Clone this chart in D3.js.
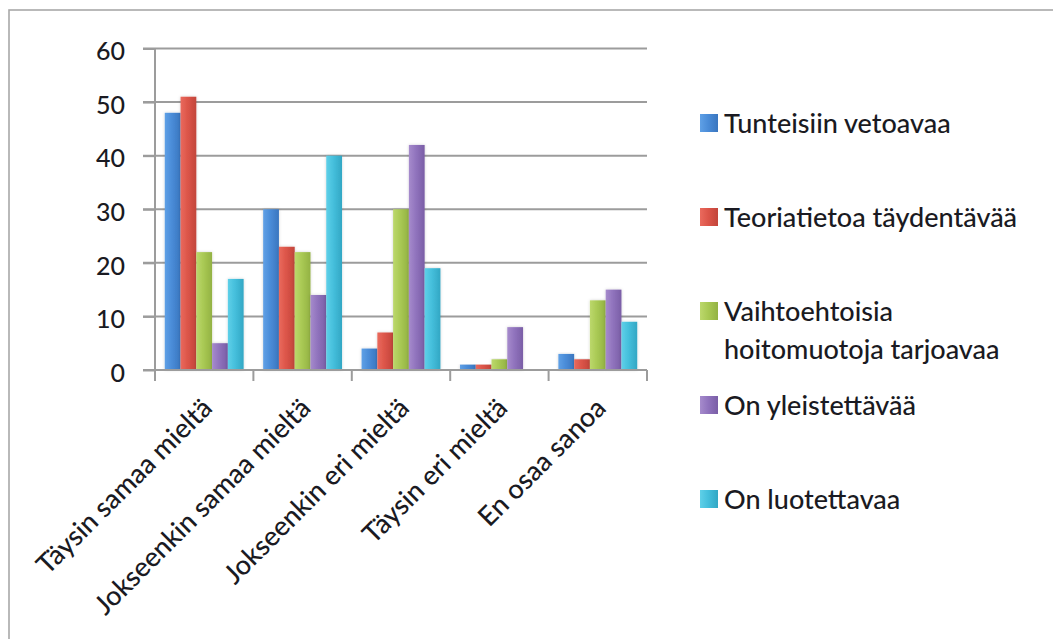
<!DOCTYPE html>
<html>
<head>
<meta charset="utf-8">
<script src="https://cdn.jsdelivr.net/npm/d3@7"></script>
<style>
  html, body { margin: 0; padding: 0; background: #ffffff; }
  svg { display: block; }
  text { font-family: Lato, "Open Sans", sans-serif; font-weight: 500; fill: #1a1a22; }
</style>
</head>
<body>
<svg id="chart" width="1053" height="639"></svg>
<script>
// Response categories (x axis)
const categories = ["Täysin samaa mieltä", "Jokseenkin samaa mieltä", "Jokseenkin eri mieltä", "Täysin eri mieltä", "En osaa sanoa"];

// Series names (legend)
const seriesNames = ["Tunteisiin vetoavaa", "Teoriatietoa täydentävää", "Vaihtoehtoisia hoitomuotoja tarjoavaa", "On yleistettävää", "On luotettavaa"];

// Values per series, one per category
const tunteisiinVetoavaa = [48, 30, 4, 1, 3];
const teoriatietoaTaydentavaa = [51, 23, 7, 1, 2];
const vaihtoehtoisiaHoitomuotoja = [22, 22, 30, 2, 13];
const onYleistettavaa = [5, 14, 42, 8, 15];
const onLuotettavaa = [17, 40, 19, 0, 9];

// Value axis ticks
const yTicks = [0, 10, 20, 30, 40, 50, 60];

const seriesValues = [tunteisiinVetoavaa, teoriatietoaTaydentavaa, vaihtoehtoisiaHoitomuotoja, onYleistettavaa, onLuotettavaa];

// light / base / dark shades for the bar gradients
const palette = [
  ["#5fa0e6", "#4a8cd8", "#3a76bf"],
  ["#ea6a5d", "#dc5549", "#c2453b"],
  ["#bcd86c", "#a9c954", "#93b243"],
  ["#a68bcc", "#9073bd", "#7a5ea6"],
  ["#5fd0e8", "#45bfdc", "#32a7c4"]
];

const svg = d3.select("#chart");
const defs = svg.append("defs");

palette.forEach((c, i) => {
  const g = defs.append("linearGradient")
    .attr("id", "grad" + i)
    .attr("x1", "0").attr("x2", "1").attr("y1", "0").attr("y2", "0");
  g.append("stop").attr("offset", "0").attr("stop-color", c[0]);
  g.append("stop").attr("offset", "0.45").attr("stop-color", c[1]);
  g.append("stop").attr("offset", "1").attr("stop-color", c[2]);
});

const shadow = defs.append("filter").attr("id", "barShadow")
  .attr("x", "-30%").attr("y", "-10%").attr("width", "160%").attr("height", "120%");
shadow.append("feDropShadow").attr("dx", 0).attr("dy", 0).attr("stdDeviation", 1.6)
  .attr("flood-color", "#000").attr("flood-opacity", 0.18);

// Outer chart frame
svg.append("rect")
  .attr("x", 9).attr("y", 10)
  .attr("width", 1060).attr("height", 650)
  .attr("fill", "#ffffff")
  .attr("stroke", "#a8a8a8").attr("stroke-width", 1.6);

const plot = { left: 155, right: 647, top: 48.5, bottom: 370 };

const x = d3.scaleBand().domain(categories).range([plot.left, plot.right]).paddingInner(0).paddingOuter(0);
const xs = d3.scaleBand().domain(d3.range(seriesNames.length)).range([0, x.bandwidth()]).paddingInner(0).paddingOuter(0.62);
const y = d3.scaleLinear().domain([0, 60]).range([plot.bottom, plot.top]);

// Horizontal gridlines
svg.append("g").selectAll("line")
  .data(yTicks)
  .join("line")
  .attr("x1", plot.left - 12).attr("x2", plot.right)
  .attr("y1", d => y(d)).attr("y2", d => y(d))
  .attr("stroke", "#9c9c9c").attr("stroke-width", 2);

// Value axis
const yAxis = svg.append("g")
  .attr("transform", `translate(${plot.left},0)`)
  .call(d3.axisLeft(y).tickValues(yTicks).tickSizeInner(12).tickSizeOuter(0).tickPadding(18));
yAxis.select(".domain").remove();
yAxis.selectAll(".tick line").attr("stroke", "#9c9c9c").attr("stroke-width", 2);
yAxis.selectAll(".tick text")
  .attr("font-size", 25)
  .attr("dy", "0.45em")
  .style("font-family", "Lato, 'Open Sans', sans-serif")
  .style("font-weight", 500)
  .attr("fill", "#1a1a22");

svg.append("line")
  .attr("x1", plot.left).attr("x2", plot.left)
  .attr("y1", plot.top).attr("y2", plot.bottom + 11)
  .attr("stroke", "#9c9c9c").attr("stroke-width", 2);

// Bars
const groups = svg.append("g").selectAll("g")
  .data(categories)
  .join("g")
  .attr("transform", d => `translate(${x(d)},0)`);

groups.selectAll("rect")
  .data((c, ci) => seriesValues.map((vals, si) => ({ si, v: vals[ci] })))
  .join("rect")
  .filter(d => d.v > 0)
  .attr("x", d => xs(d.si))
  .attr("width", xs.bandwidth())
  .attr("y", d => y(d.v))
  .attr("height", d => y(0) - y(d.v))
  .attr("fill", d => `url(#grad${d.si})`)
  .attr("filter", "url(#barShadow)");

// Category axis line and boundary ticks
svg.append("line")
  .attr("x1", plot.left - 12).attr("x2", plot.right)
  .attr("y1", y(0)).attr("y2", y(0))
  .attr("stroke", "#9c9c9c").attr("stroke-width", 2);

const boundaries = categories.map(c => x(c)).concat([x.range()[1]]);
svg.append("g").selectAll("line")
  .data(boundaries)
  .join("line")
  .attr("x1", d => d).attr("x2", d => d)
  .attr("y1", y(0)).attr("y2", y(0) + 11)
  .attr("stroke", "#9c9c9c").attr("stroke-width", 2);

// Rotated category labels
svg.append("g").selectAll("text")
  .data(categories)
  .join("text")
  .attr("transform", d => `translate(${x(d) + x.bandwidth() / 2 + 3},${y(0) + 33}) rotate(-45)`)
  .attr("text-anchor", "end")
  .attr("dy", "0.35em")
  .attr("font-size", 27)
  .text(d => d);

// Legend
const legend = svg.append("g");
const legendX = 700, legendTop = 123, legendStep = 94, lineH = 38, maxW = 310;

seriesNames.forEach((name, i) => {
  const cy = legendTop + i * legendStep;
  legend.append("rect")
    .attr("x", legendX).attr("y", cy - 9)
    .attr("width", 18).attr("height", 18)
    .attr("fill", `url(#grad${i})`);
  const t = legend.append("text")
    .attr("x", legendX + 24).attr("y", cy)
    .attr("font-size", 27);
  // greedy word wrap
  const words = name.split(" ");
  let line = [];
  let ts = t.append("tspan").attr("x", legendX + 24).attr("dy", "0.36em");
  words.forEach(w => {
    line.push(w);
    ts.text(line.join(" "));
    if (ts.node().getComputedTextLength() > maxW && line.length > 1) {
      line.pop();
      ts.text(line.join(" "));
      line = [w];
      ts = t.append("tspan").attr("x", legendX + 24).attr("dy", lineH).text(w);
    }
  });
});
</script>
</body>
</html>
